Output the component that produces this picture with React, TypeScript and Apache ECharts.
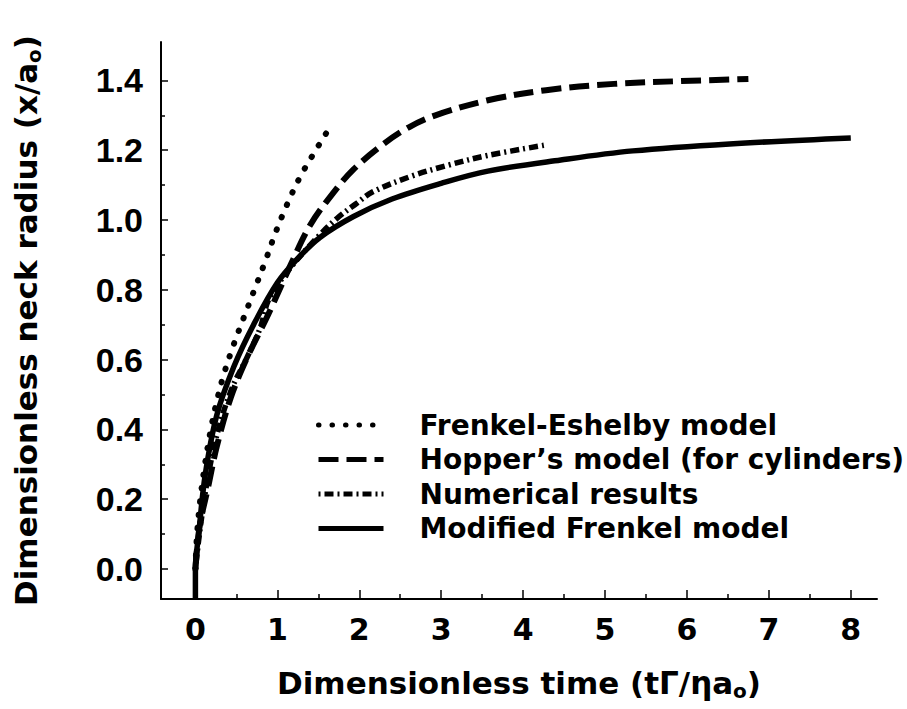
import React, { useEffect, useRef } from "react";
import * as echarts from "echarts";

// ---- data ----
const seriesNames = [
  "Frenkel-Eshelby model",
  "Hopper\u2019s model (for cylinders)",
  "Numerical results",
  "Modified Frenkel model",
];

const frenkelT = [0, 0.02, 0.06, 0.11, 0.18, 0.26, 0.35, 0.47, 0.59, 0.72, 0.85, 0.98, 1.12, 1.27, 1.43, 1.6];
const frenkelY = [0, 0.1, 0.2, 0.29, 0.39, 0.48, 0.56, 0.645, 0.72, 0.8, 0.88, 0.965, 1.045, 1.12, 1.185, 1.25];

const hopperT = [0, 0.05, 0.16, 0.26, 0.43, 0.63, 0.89, 1.16, 1.4, 1.69, 1.93, 2.28, 2.6, 2.93, 3.57, 4.28, 5.11, 5.93, 6.75];
const hopperY = [0, 0.12, 0.24, 0.35, 0.49, 0.605, 0.73, 0.87, 0.985, 1.08, 1.145, 1.215, 1.265, 1.3, 1.343, 1.372, 1.39, 1.398, 1.404];

const numericalT = [0, 0.06, 0.15, 0.28, 0.45, 0.63, 0.79, 0.9, 1.15, 1.48, 1.73, 1.97, 2.16, 2.63, 3.1, 3.57, 4.28];
const numericalY = [0, 0.12, 0.26, 0.4, 0.52, 0.606, 0.69, 0.775, 0.86, 0.948, 1.005, 1.048, 1.08, 1.125, 1.158, 1.185, 1.215];

const modifiedT = [0, 0, 0.04, 0.12, 0.26, 0.47, 0.71, 1.0, 1.25, 1.52, 1.93, 2.4, 3.0, 3.57, 4.46, 5.34, 6.52, 8.0];
const modifiedY = [-0.086, 0, 0.1, 0.27, 0.44, 0.58, 0.7, 0.82, 0.89, 0.95, 1.01, 1.06, 1.105, 1.14, 1.172, 1.198, 1.218, 1.235];

const yTickLabels = [0, 0.2, 0.4, 0.6, 0.8, 1.0, 1.2, 1.4];
const yMinorTicks = [0.1, 0.3, 0.5, 0.7, 0.9, 1.1, 1.3];
const xTickLabels = [0, 1, 2, 3, 4, 5, 6, 7, 8];
const xMinorTicks = [0.5, 1.5, 2.5, 3.5, 4.5, 5.5, 6.5, 7.5];

const xMin = -0.42;
const xMax = 8.32;
const yMin = -0.086;
const yMax = 1.51;

const zip = (a: number[], b: number[]) => a.map((v, i) => [v, b[i]]);

export default function App() {
  const ref = useRef<HTMLDivElement>(null);

  useEffect(() => {
    if (!ref.current) return;
    const chart = echarts.init(ref.current, null, { renderer: "svg" });
    const black = "#000";
    const bold = "bold";
    const nameRich = {
      n: { fontFamily: "DejaVu Sans", fontWeight: bold, fontSize: 31, color: black, lineHeight: 31, verticalAlign: "top" },
      s: { fontFamily: "DejaVu Sans", fontWeight: bold, fontSize: 20, color: black, lineHeight: 31, verticalAlign: "top", padding: [14, 0, 0, 0] },
    };
    const option: any = {
      animation: false,
      backgroundColor: "#fff",
      color: [black, black, black, black],
      grid: { left: 161, right: 30, top: 42, bottom: 110, containLabel: false },
      legend: {
        orient: "vertical",
        left: 311,
        top: 406,
        itemWidth: 65,
        itemHeight: 14,
        itemGap: 6.5,
        selectedMode: false,
        data: seriesNames,
        lineStyle: { width: 5 },
        itemStyle: { opacity: 0 },
        textStyle: {
          fontFamily: "DejaVu Sans",
          fontWeight: bold,
          fontSize: 28,
          color: black,
          padding: [0, 0, 0, 31],
        },
      },
      xAxis: [
        {
          type: "value",
          min: xMin,
          max: xMax,
          position: "bottom",
          name: "{n|Dimensionless time (t\u0393/\u03b7a}{s|o}{n|)}",
          nameLocation: "middle",
          nameGap: 68,
          nameTextStyle: { color: black, rich: nameRich },
          axisLine: { show: true, onZero: false, lineStyle: { color: black, width: 2 } },
          axisTick: { show: true, inside: true, length: 9, customValues: xTickLabels, lineStyle: { color: black, width: 1.5 } },
          axisLabel: {
            show: true,
            customValues: xTickLabels,
            formatter: (v: number) => String(Math.round(v)),
            fontFamily: "DejaVu Sans",
            fontWeight: bold,
            fontSize: 30,
            color: black,
            margin: 15,
          },
          splitLine: { show: false },
        },
        {
          type: "value",
          min: xMin,
          max: xMax,
          position: "bottom",
          axisLine: { show: false, onZero: false },
          axisTick: { show: true, inside: true, length: 5, customValues: xMinorTicks, lineStyle: { color: black, width: 1.5 } },
          axisLabel: { show: false },
          splitLine: { show: false },
        },
      ],
      yAxis: [
        {
          type: "value",
          min: yMin,
          max: yMax,
          position: "left",
          name: "{n|Dimensionless neck radius (x/a}{s|o}{n|)}",
          nameLocation: "middle",
          nameGap: 120,
          nameTextStyle: { color: black, rich: nameRich },
          axisLine: { show: true, onZero: false, lineStyle: { color: black, width: 2 } },
          axisTick: { show: true, inside: true, length: 7, customValues: yTickLabels, lineStyle: { color: black, width: 1.5 } },
          axisLabel: {
            show: true,
            customValues: yTickLabels,
            formatter: (v: number) => v.toFixed(1),
            fontFamily: "Liberation Sans",
            fontWeight: bold,
            fontSize: 34,
            color: black,
            margin: 18,
          },
          splitLine: { show: false },
        },
        {
          type: "value",
          min: yMin,
          max: yMax,
          position: "left",
          axisLine: { show: false, onZero: false },
          axisTick: { show: true, inside: true, length: 4, customValues: yMinorTicks, lineStyle: { color: black, width: 1.5 } },
          axisLabel: { show: false },
          splitLine: { show: false },
        },
      ],
      series: [
        {
          name: seriesNames[0],
          type: "line",
          data: zip(frenkelT, frenkelY),
          showSymbol: false,
          symbol: "none",
          smooth: 0.35,
          itemStyle: { color: black },
          lineStyle: { color: black, width: 6, type: [0.5, 13], cap: "round" },
          z: 3,
        },
        {
          name: seriesNames[1],
          type: "line",
          data: zip(hopperT, hopperY),
          showSymbol: false,
          symbol: "none",
          smooth: 0.35,
          itemStyle: { color: black },
          lineStyle: { color: black, width: 6, type: [20, 8], cap: "butt" },
          z: 3,
        },
        {
          name: seriesNames[2],
          type: "line",
          data: zip(numericalT, numericalY),
          showSymbol: false,
          symbol: "none",
          smooth: 0.35,
          itemStyle: { color: black },
          lineStyle: { color: black, width: 5.5, type: [2, 4, 9, 4], cap: "butt" },
          z: 3,
        },
        {
          name: seriesNames[3],
          type: "line",
          data: zip(modifiedT, modifiedY),
          showSymbol: false,
          symbol: "none",
          smooth: 0.35,
          itemStyle: { color: black },
          lineStyle: { color: black, width: 5.5, type: "solid" },
          z: 4,
        },
      ],
    };
    chart.setOption(option);
    return () => chart.dispose();
  }, []);

  return (
    <div
      ref={ref}
      style={{ position: "fixed", left: 0, top: 0, width: 907, height: 709, background: "#fff" }}
    />
  );
}
